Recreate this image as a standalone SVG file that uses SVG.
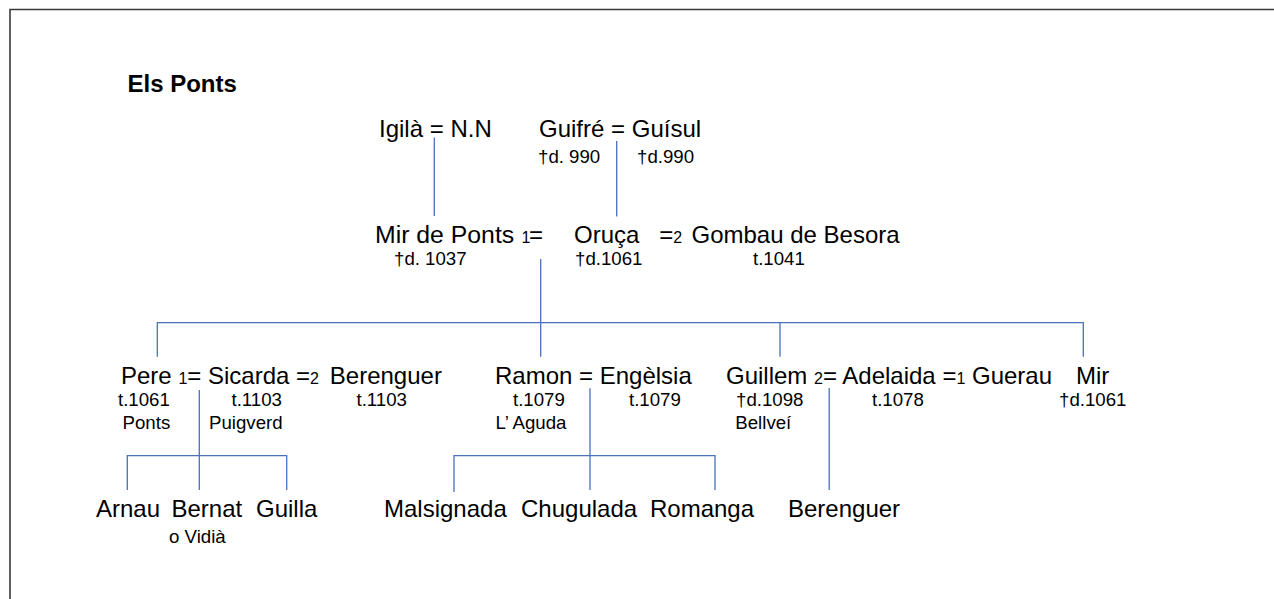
<svg xmlns="http://www.w3.org/2000/svg" width="1274" height="599" viewBox="0 0 1274 599">
<style>
text{font-family:"Liberation Sans",Arial,sans-serif;fill:#000}
.m{font-size:24px}
.s{font-size:18.67px}
.n{font-size:16px}
.t{font-size:24px;font-weight:bold}
.c{fill:none;stroke:#4a72b6;stroke-width:1.3}
.f{fill:none;stroke:#3a3a3a;stroke-width:1.6}
</style>
<rect width="1274" height="599" fill="#fff"/>
<path class="f" d="M10 599 V9.5 H1274"/>
<text class="t" x="127.5" y="92">Els Ponts</text>
<g id="connectors">
<path class="c" d="M434.3 137.5 V216"/>
<path class="c" d="M616.7 141 V216.5"/>
<path class="c" d="M540.7 259 V356.7"/>
<path class="c" d="M157.3 356.7 V322.7 H1083.3 V356.7"/>
<path class="c" d="M780 322.7 V356.7"/>
<path class="c" d="M199.3 390 V490"/>
<path class="c" d="M127.3 490 V455.7 H286.7 V490"/>
<path class="c" d="M590 388.3 V490"/>
<path class="c" d="M454 492 V455.7 H715 V490"/>
<path class="c" d="M829.2 388 V490"/>
</g>
<g id="igila">
<text class="m" x="379" y="137.3">Igilà = N.N</text>
</g>
<g id="guifre">
<text class="m" x="539" y="137.3">Guifré = Guísul</text>
<text class="s" x="538" y="163.3">†d. 990</text>
<text class="s" x="637" y="163.3">†d.990</text>
</g>
<g id="mir-de-ponts">
<text class="m" x="375" y="243"><tspan font-size="24.8px">Mir de Ponts</tspan> <tspan class="n" x="521.5">1</tspan><tspan x="529">=</tspan></text>
<text class="s" x="394" y="265">†d. 1037</text>
</g>
<g id="oruca">
<text class="m" x="574" y="243">Oruça</text>
<text class="s" x="575" y="265">†d.1061</text>
</g>
<g id="gombau">
<text class="m" x="659.3" y="243">=<tspan class="n">2</tspan><tspan x="691.5">Gombau de Besora</tspan></text>
<text class="s" x="753" y="265">t.1041</text>
</g>
<g id="pere">
<text class="m" x="121" y="384">Pere <tspan class="n">1</tspan>= Sicarda =<tspan class="n">2</tspan><tspan x="329.8">Berenguer</tspan></text>
<text class="s" x="118" y="406">t.1061</text>
<text class="s" x="122.5" y="429">Ponts</text>
<text class="s" x="231.5" y="406">t.1103</text>
<text class="s" x="209" y="429">Puigverd</text>
<text class="s" x="356.5" y="406">t.1103</text>
</g>
<g id="ramon">
<text class="m" x="495" y="384">Ramon = Engèlsia</text>
<text class="s" x="513" y="406">t.1079</text>
<text class="s" x="495.5" y="429">L’ Aguda</text>
<text class="s" x="629" y="406">t.1079</text>
</g>
<g id="guillem">
<text class="m" x="726" y="384">Guillem <tspan class="n">2</tspan>= Adelaida =<tspan class="n">1</tspan> Guerau</text>
<text class="s" x="736" y="406">†d.1098</text>
<text class="s" x="735.3" y="429">Bellveí</text>
<text class="s" x="872" y="406">t.1078</text>
</g>
<g id="mir">
<text class="m" x="1076" y="384">Mir</text>
<text class="s" x="1059" y="406">†d.1061</text>
</g>
<g id="arnau"><text class="m" x="96" y="516.7">Arnau</text></g>
<g id="bernat"><text class="m" x="171.5" y="516.7">Bernat</text><text class="s" x="169" y="543.3">o Vidià</text></g>
<g id="guilla"><text class="m" x="256" y="516.7">Guilla</text></g>
<g id="malsignada"><text class="m" x="384" y="516.7">Malsignada</text></g>
<g id="chugulada"><text class="m" x="521" y="516.7">Chugulada</text></g>
<g id="romanga"><text class="m" x="650" y="516.7">Romanga</text></g>
<g id="berenguer"><text class="m" x="788" y="516.7">Berenguer</text></g>
</svg>
